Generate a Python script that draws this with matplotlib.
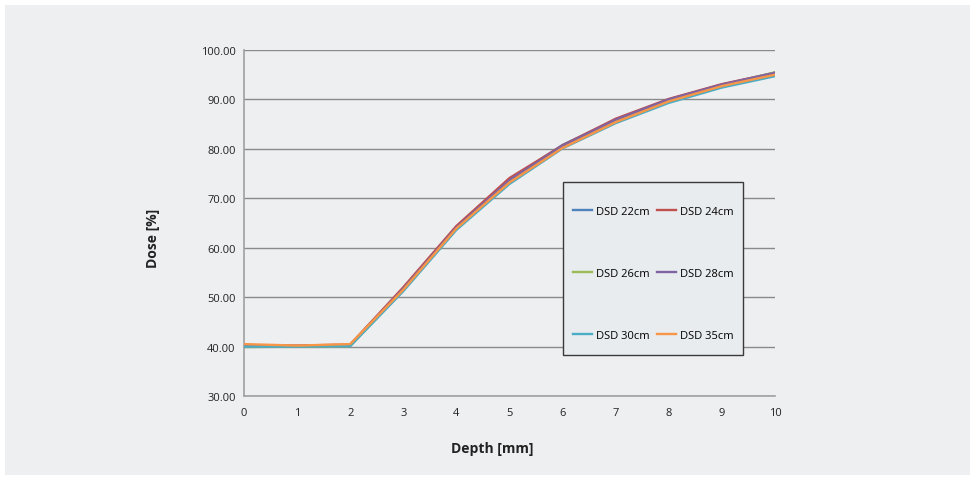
import matplotlib.pyplot as plt
from matplotlib.patches import Rectangle

depth = [0, 1, 2, 3, 4, 5, 6, 7, 8, 9, 10]

dsd_labels = ["DSD 22cm", "DSD 24cm", "DSD 26cm", "DSD 28cm", "DSD 30cm", "DSD 35cm"]
dsd_22 = [40.2, 40.1, 40.3, 51.8, 64.2, 73.8, 80.8, 85.9, 90.0, 93.0, 95.3]
dsd_24 = [40.3, 40.2, 40.4, 52.0, 64.4, 74.1, 80.7, 86.1, 90.1, 93.1, 95.4]
dsd_26 = [39.9, 40.0, 40.1, 51.4, 63.8, 73.3, 80.3, 85.5, 89.6, 92.8, 95.5]
dsd_28 = [40.1, 40.1, 40.3, 51.7, 64.1, 73.7, 80.6, 85.9, 90.0, 93.0, 95.4]
dsd_30 = [40.0, 40.0, 40.1, 51.2, 63.6, 72.9, 80.1, 85.2, 89.3, 92.4, 94.7]
dsd_35 = [40.5, 40.2, 40.5, 51.5, 63.9, 73.2, 80.2, 85.4, 89.6, 92.7, 95.0]
series = [dsd_22, dsd_24, dsd_26, dsd_28, dsd_30, dsd_35]
colors = ["#4F81BD", "#C0504D", "#9BBB59", "#8064A2", "#4BACC6", "#F79646"]

plt.rcParams['font.family'] = ['Open Sans', 'DejaVu Sans']

W, H = 974, 481
fig = plt.figure(figsize=(W / 100, H / 100), dpi=100)
fig.patch.set_facecolor("white")
bg = "#eeeff1"
fig.patches.append(Rectangle((5 / W, 5 / H), 965 / W, 470 / H,
                             transform=fig.transFigure, facecolor=bg,
                             edgecolor="none", zorder=-10))

ax = fig.add_axes([244 / W, 1 - 397 / H, 531 / W, 346 / H])
ax.set_facecolor("none")

handles = []
for vals, lab, c in zip(series, dsd_labels, colors):
    h, = ax.plot(depth, vals, color=c, lw=1.7, label=lab, zorder=3)
    handles.append(h)

ax.set_xlim(0, 10)
ax.set_ylim(30, 100)
ax.set_xticks(depth)
ax.set_yticks(range(30, 101, 10))
ax.set_yticklabels([f"{v:.2f}" for v in range(30, 101, 10)])
ax.tick_params(length=0, labelsize=8, colors="#222222", pad=6)
ax.tick_params(axis="x", pad=8)
ax.yaxis.grid(True, color="#8a8a8a", lw=1.0)
ax.set_axisbelow(True)
for s in ["top", "right"]:
    ax.spines[s].set_visible(False)
for s in ["left", "bottom"]:
    ax.spines[s].set_color("#a0a0a0")
    ax.spines[s].set_linewidth(1.2)

fig.text(153 / W, 1 - 238 / H, "Dose [%]", rotation=90, ha="center",
         va="center", fontsize=10, fontweight="bold", color="#222222")
fig.text(492 / W, 1 - 449 / H, "Depth [mm]", ha="center", va="center",
         fontsize=10, fontweight="bold", color="#222222")

# legend box drawn by hand so the padding can differ top/side
fig.patches.append(Rectangle((563 / W, 1 - 356 / H), 180 / W, 173 / H,
                             transform=fig.transFigure, facecolor="#e9ecef",
                             edgecolor="#3a3a3a", lw=1.0, zorder=5))

# legend fills column-first, reorder so rows read 22/24, 26/28, 30/35
order = [0, 2, 4, 1, 3, 5]
leg = fig.legend([handles[i] for i in order], [dsd_labels[i] for i in order],
                 ncol=2, loc="upper left",
                 bbox_to_anchor=(573 / W, 1 - 207 / H),
                 fontsize=8, frameon=False, labelspacing=4.6,
                 handlelength=1.7, handletextpad=0.4, columnspacing=0.6,
                 borderpad=0, borderaxespad=0)
leg.set_zorder(6)

fig.savefig("out.png", dpi=100)
